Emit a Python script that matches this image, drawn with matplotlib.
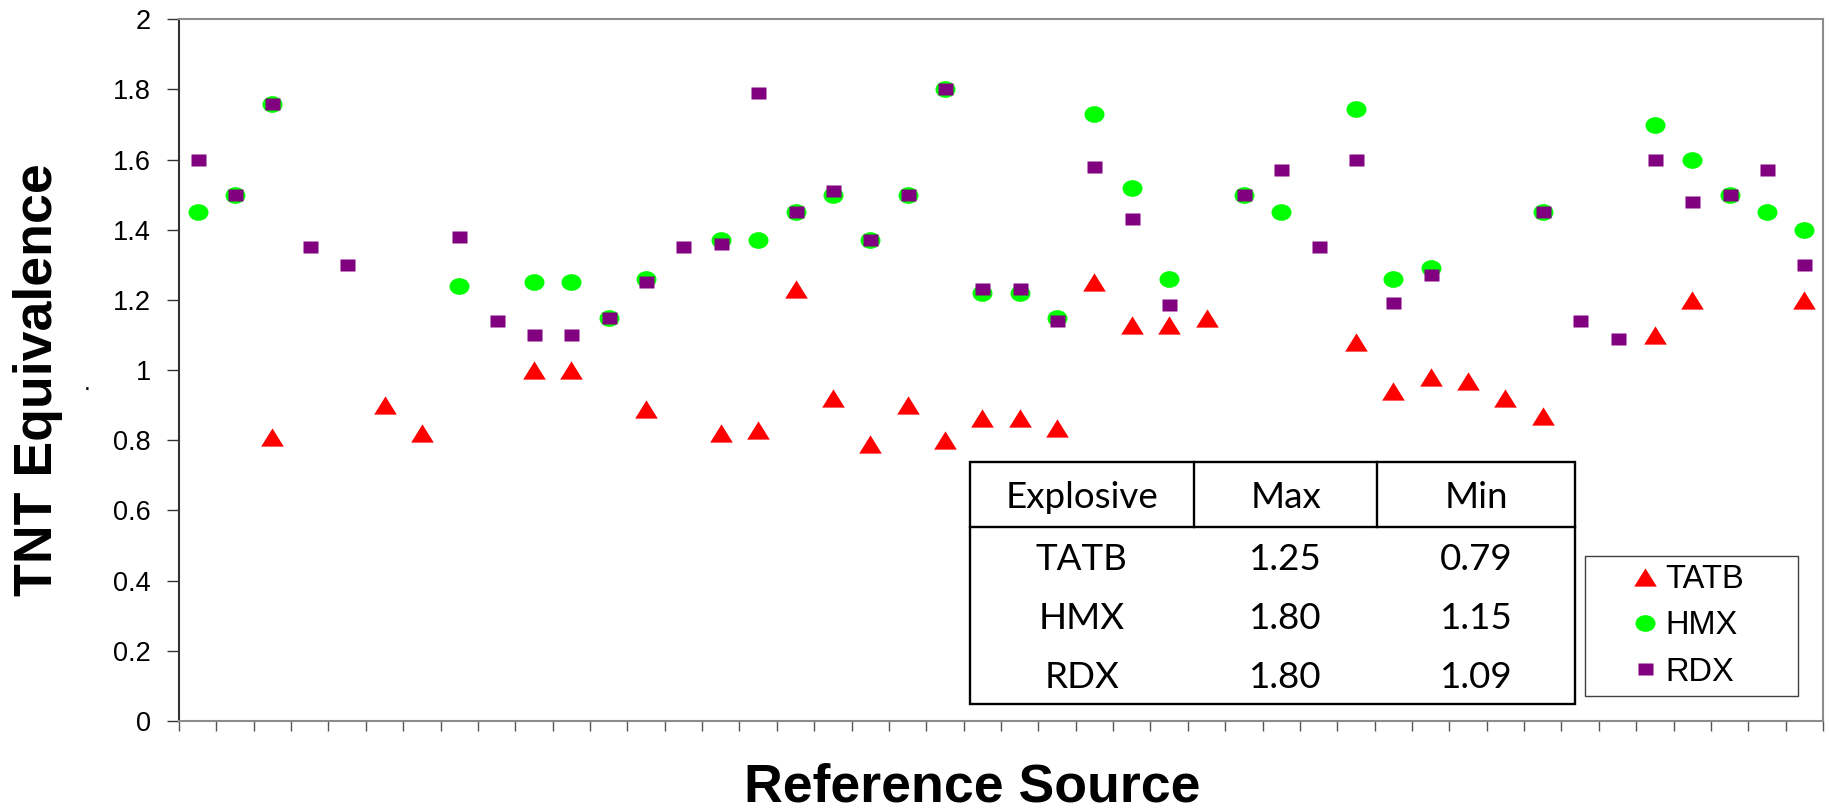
import numpy as np
import matplotlib
matplotlib.use("Agg")
import matplotlib.pyplot as plt
from matplotlib.path import Path
from matplotlib.transforms import Affine2D
from matplotlib.patches import Rectangle
from matplotlib.lines import Line2D

plt.rcParams['font.family'] = ['Liberation Sans', 'DejaVu Sans']

nan = np.nan
# 44 reference sources (no labels shown)
sources = np.arange(44)
tatb = [nan, nan, 0.81, nan, nan, 0.90, 0.82, nan, nan, 1.00,
        1.00, nan, 0.89, nan, 0.82, 0.83, 1.23, 0.92, 0.79, 0.90,
        0.80, 0.865, 0.865, 0.835, 1.25, 1.13, 1.13, 1.15, nan, nan,
        nan, 1.08, 0.94, 0.98, 0.97, 0.92, 0.87, nan, nan, 1.10,
        1.20, nan, nan, 1.20]
hmx = [1.45, 1.50, 1.76, nan, nan, nan, nan, 1.24, nan, 1.25,
       1.25, 1.15, 1.26, nan, 1.37, 1.37, 1.45, 1.50, 1.37, 1.50,
       1.80, 1.22, 1.22, 1.15, 1.73, 1.52, 1.26, nan, 1.50, 1.45,
       nan, 1.745, 1.26, 1.29, nan, nan, 1.45, nan, nan, 1.70,
       1.60, 1.50, 1.45, 1.40]
rdx = [1.60, 1.50, 1.76, 1.35, 1.30, nan, nan, 1.38, 1.14, 1.10,
       1.10, 1.15, 1.25, 1.35, 1.36, 1.79, 1.45, 1.51, 1.37, 1.50,
       1.80, 1.23, 1.23, 1.14, 1.58, 1.43, 1.185, nan, 1.50, 1.57,
       1.35, 1.60, 1.19, 1.27, nan, nan, 1.45, 1.14, 1.09, 1.60,
       1.48, 1.50, 1.57, 1.30]
series_names = ["TATB", "HMX", "RDX"]
series_colors = ["#FF0000", "#00FF00", "#800080"]
yticks = [0, 0.2, 0.4, 0.6, 0.8, 1.0, 1.2, 1.4, 1.6, 1.8, 2.0]
table_header = ["Explosive", "Max", "Min"]

W, H = 1829, 810
fig = plt.figure(figsize=(W / 100, H / 100), dpi=100)


def fx(px):
    return px / W


def fy(py):
    return (H - py) / H


ax_l, ax_r, ax_t, ax_b = 179, 1823, 19.3, 721
ax = fig.add_axes([fx(ax_l), fy(ax_b), (ax_r - ax_l) / W, (ax_b - ax_t) / H])

# custom (slightly flattened) markers
tri = Path([(-1, -0.806), (1, -0.806), (0, 0.806), (-1, -0.806)],
           [Path.MOVETO, Path.LINETO, Path.LINETO, Path.CLOSEPOLY])
ell = Affine2D().scale(1, 0.835).transform_path(Path.unit_circle())
sq = Path([(-1, -0.78), (1, -0.78), (1, 0.78), (-1, 0.78), (-1, -0.78)],
          [Path.MOVETO, Path.LINETO, Path.LINETO, Path.LINETO, Path.CLOSEPOLY])

markers = [tri, ell, sq]
sizes = [16.3, 14.4, 10.8]
for vals, name, col, mk, ms in zip([tatb, hmx, rdx], series_names, series_colors, markers, sizes):
    ax.plot(sources, vals, linestyle='none', marker=mk, markersize=ms,
            color=col, markeredgecolor='none', label=name)

ax.set_xlim(-0.5, len(sources) - 0.5)
ax.set_ylim(0, 2)
ax.set_yticks(yticks)
ax.set_yticklabels([f"{v:g}" for v in yticks])
ax.set_xticks(np.arange(-0.5, len(sources), 1.0))
ax.set_xticklabels([])

for side in ['top', 'right', 'bottom']:
    ax.spines[side].set_color('#8C8C8C')
    ax.spines[side].set_linewidth(1.5)
ax.spines['left'].set_color('#333333')
ax.spines['left'].set_linewidth(1.5)

ax.tick_params(axis='y', direction='out', length=8.6, width=1.0, color='#333333',
               pad=11.5, labelsize=19.5)
ax.tick_params(axis='x', direction='out', length=7.2, width=1.0, color='#555555')

ax.set_xlabel('Reference Source', fontsize=38.6, fontweight='bold',
              ha='center', va='baseline')
ax.xaxis.set_label_coords((972.6 - ax_l) / (ax_r - ax_l), (H - 801.5 - (H - ax_b)) / (ax_b - ax_t))
ax.set_ylabel('TNT Equivalence', fontsize=38.6, fontweight='bold', rotation=90,
              rotation_mode='anchor', ha='center', va='baseline')
ax.yaxis.set_label_coords((52.3 - ax_l) / (ax_r - ax_l), (H - 380 - (H - ax_b)) / (ax_b - ax_t))

fig.text(fx(86.7), fy(390), '.', fontsize=17.8, ha='center', va='baseline')

# legend (frame drawn separately)
leg = ax.legend(loc='center left', bbox_to_anchor=(fx(1628.7), fy(626)),
                bbox_transform=fig.transFigure, frameon=False, fontsize=23.5,
                handlelength=1.0, handletextpad=0.11, labelspacing=0.47,
                borderpad=0, borderaxespad=0, numpoints=1)
fig.patches.append(Rectangle((fx(1584.7), fy(696)), (1797.6 - 1584.7) / W, (696 - 556.3) / H,
                             transform=fig.transFigure, fill=False, ec='#404040', lw=1.0,
                             figure=fig))

# summary table
t_l, t_r, t_t, t_hb, t_b = 969.6, 1574.6, 462.3, 527, 703.7
col_sep = [1193.7, 1377.4]
col_cx = [(t_l + col_sep[0]) / 2, (col_sep[0] + col_sep[1]) / 2, (col_sep[1] + t_r) / 2]
fig.patches.append(Rectangle((fx(t_l), fy(t_b)), (t_r - t_l) / W, (t_b - t_t) / H,
                             transform=fig.transFigure, fc='white', ec='black', lw=1.7,
                             zorder=2, figure=fig))
fig.lines.append(Line2D([fx(t_l), fx(t_r)], [fy(t_hb), fy(t_hb)], transform=fig.transFigure,
                        color='black', lw=1.7, zorder=3, figure=fig))
for xs in col_sep:
    fig.lines.append(Line2D([fx(xs), fx(xs)], [fy(t_t), fy(t_hb)], transform=fig.transFigure,
                            color='black', lw=1.7, zorder=3, figure=fig))

rows = [table_header]
for name, vals in zip(series_names, [tatb, hmx, rdx]):
    rows.append([name, f"{np.nanmax(vals):.2f}", f"{np.nanmin(vals):.2f}"])
row_base = [507.5, 570.5, 629.2, 687.5]
for r, yb in zip(rows, row_base):
    for txt, cx in zip(r, col_cx):
        fig.text(fx(cx), fy(yb), txt, fontsize=26.5, ha='center', va='baseline', zorder=4,
                 family=['Lato', 'DejaVu Sans'])

fig.savefig('out.png', dpi=100, facecolor='white')
